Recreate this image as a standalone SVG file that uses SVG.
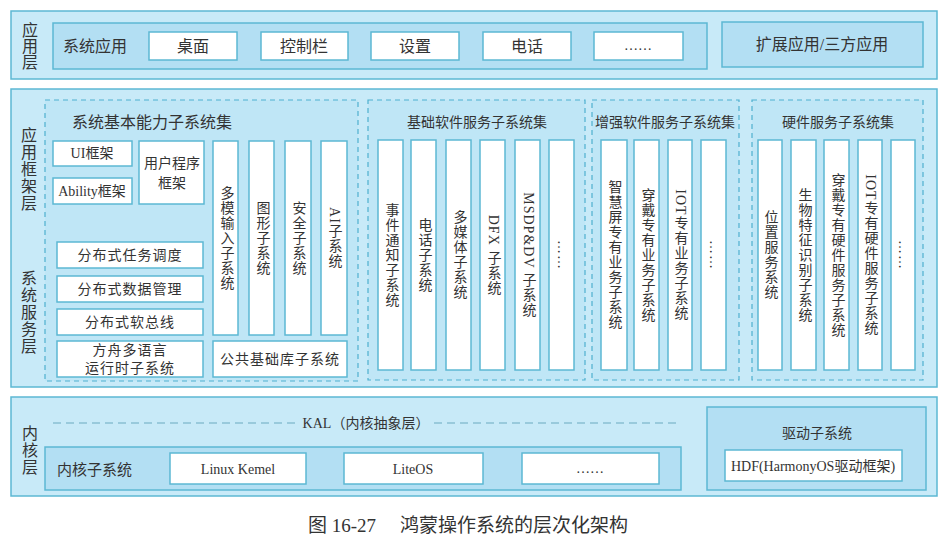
<svg xmlns="http://www.w3.org/2000/svg" width="952" height="550" viewBox="0 0 952 550">
<defs>
<style>
.layer{fill:#c8eaf8;stroke:#5cb8d3;stroke-width:1.5}
.inner{fill:#b3dff3;stroke:#5cb8d3;stroke-width:1.5}
.grp{fill:#bfe6f6;stroke:#4fb0cf;stroke-width:1.2;stroke-dasharray:5 4}
.box{fill:#ffffff;stroke:#5cb8d3;stroke-width:1.5}
text{font-family:"Liberation Serif","Noto Sans CJK SC",serif;fill:#333;font-size:14px}
.c{text-anchor:middle;dominant-baseline:central}
.v{writing-mode:vertical-rl;text-anchor:middle;letter-spacing:1px}
.lbl{font-size:16px}
.t14{font-size:14px}
.kal{stroke:#6aa9bf;stroke-width:1.2;stroke-dasharray:8 5;fill:none}
</style>
</defs>
<rect width="952" height="550" fill="#ffffff"/>

<!-- Application layer -->
<g id="app-layer">
<rect class="layer" x="11" y="11" width="926" height="68"/>
<text class="lbl c" x="30" y="30">应</text>
<text class="lbl c" x="30" y="46">用</text>
<text class="lbl c" x="30" y="62">层</text>
</g>
<g id="sys-apps">
<rect class="inner" x="53" y="23" width="654" height="46"/>
<text class="lbl" x="63" y="46" dominant-baseline="central">系统应用</text>
</g>
<g id="desktop"><rect class="box" x="149" y="32" width="88" height="28"/><text class="lbl c" x="193" y="46">桌面</text></g>
<g id="controlbar"><rect class="box" x="261" y="32" width="87" height="28"/><text class="lbl c" x="304" y="46">控制栏</text></g>
<g id="settings"><rect class="box" x="371" y="32" width="88" height="28"/><text class="lbl c" x="415" y="46">设置</text></g>
<g id="phone"><rect class="box" x="483" y="32" width="88" height="28"/><text class="lbl c" x="527" y="46">电话</text></g>
<g id="app-more"><rect class="box" x="594" y="32" width="89" height="28"/><text class="c" x="638" y="45">……</text></g>
<g id="ext-apps"><rect class="inner" x="722" y="22" width="201" height="45"/><text class="lbl c" x="822" y="44">扩展应用/三方应用</text></g>

<!-- Framework / system service layer -->
<g id="mid-layer">
<rect class="layer" x="11" y="89" width="926" height="298"/>
<text class="lbl c" x="29" y="135">应</text>
<text class="lbl c" x="29" y="152">用</text>
<text class="lbl c" x="29" y="169">框</text>
<text class="lbl c" x="29" y="186">架</text>
<text class="lbl c" x="29" y="203">层</text>
<text class="lbl c" x="29" y="278">系</text>
<text class="lbl c" x="29" y="295">统</text>
<text class="lbl c" x="29" y="312">服</text>
<text class="lbl c" x="29" y="329">务</text>
<text class="lbl c" x="29" y="346">层</text>
</g>

<g id="basic-cap-set">
<rect class="grp" x="45" y="100" width="313" height="281"/>
<text class="lbl" x="72" y="122" dominant-baseline="central">系统基本能力子系统集</text>
</g>
<g id="ui-fw"><rect class="box" x="53" y="141" width="79" height="25"/><text class="c" x="92" y="153">UI框架</text></g>
<g id="ability-fw"><rect class="box" x="53" y="178" width="79" height="26"/><text class="c" x="92" y="191">Ability框架</text></g>
<g id="user-fw"><rect class="box" x="139" y="141" width="65" height="63"/><text class="c" x="172" y="163">用户程序</text><text class="c" x="172" y="183">框架</text></g>
<g id="multimodal"><rect class="box" x="213" y="141" width="25" height="194"/><text class="v" x="226" y="238">多模输入子系统</text></g>
<g id="graphics"><rect class="box" x="249" y="141" width="25" height="194"/><text class="v" x="262" y="238">图形子系统</text></g>
<g id="security"><rect class="box" x="285" y="141" width="26" height="194"/><text class="v" x="298" y="238">安全子系统</text></g>
<g id="ai"><rect class="box" x="321" y="141" width="26" height="194"/><text class="v" x="334" y="238">AI子系统</text></g>
<g id="dist-sched"><rect class="box" x="57" y="242" width="146" height="26"/><text class="c" x="130" y="255" letter-spacing="1">分布式任务调度</text></g>
<g id="dist-data"><rect class="box" x="57" y="276" width="146" height="26"/><text class="c" x="130" y="289" letter-spacing="1">分布式数据管理</text></g>
<g id="dist-bus"><rect class="box" x="57" y="309" width="146" height="26"/><text class="c" x="130" y="322" letter-spacing="1">分布式软总线</text></g>
<g id="ark-runtime"><rect class="box" x="57" y="341" width="146" height="36"/><text class="c" x="130" y="350" letter-spacing="1">方舟多语言</text><text class="c" x="130" y="368" letter-spacing="1">运行时子系统</text></g>
<g id="common-lib"><rect class="box" x="213" y="341" width="134" height="36"/><text class="c" x="280" y="359" letter-spacing="1">公共基础库子系统</text></g>

<g id="basic-sw-set">
<rect class="grp" x="368" y="100" width="217" height="280"/>
<text class="c" x="477" y="122">基础软件服务子系统集</text>
</g>
<g id="event-notify"><rect class="box" x="378" y="140" width="25" height="230"/><text class="v" x="391" y="255">事件通知子系统</text></g>
<g id="telephony"><rect class="box" x="411" y="140" width="25" height="230"/><text class="v" x="424" y="255">电话子系统</text></g>
<g id="multimedia"><rect class="box" x="446" y="140" width="25" height="230"/><text class="v" x="459" y="255">多媒体子系统</text></g>
<g id="dfx"><rect class="box" x="480" y="140" width="25" height="230"/><text class="v" x="493" y="255">DFX 子系统</text></g>
<g id="msdp"><rect class="box" x="515" y="140" width="25" height="230"/><text class="v" x="528" y="255">MSDP&amp;DV  子系统</text></g>
<g id="basic-more"><rect class="box" x="549" y="140" width="25" height="230"/><text class="v" x="562" y="255">……</text></g>

<g id="enh-sw-set">
<rect class="grp" x="592" y="100" width="147" height="280"/>
<text class="c" x="665" y="122">增强软件服务子系统集</text>
</g>
<g id="smart-screen"><rect class="box" x="601" y="140" width="26" height="230"/><text class="v" x="614" y="255">智慧屏专有业务子系统</text></g>
<g id="wearable"><rect class="box" x="634" y="140" width="25" height="230"/><text class="v" x="647" y="255">穿戴专有业务子系统</text></g>
<g id="iot-biz"><rect class="box" x="668" y="140" width="24" height="230"/><text class="v" x="680" y="255">IOT专有业务子系统</text></g>
<g id="enh-more"><rect class="box" x="701" y="140" width="25" height="230"/><text class="v" x="714" y="255">……</text></g>

<g id="hw-set">
<rect class="grp" x="752" y="100" width="171" height="280"/>
<text class="c" x="838" y="122">硬件服务子系统集</text>
</g>
<g id="location"><rect class="box" x="758" y="140" width="24" height="230"/><text class="v" x="770" y="255">位置服务系统</text></g>
<g id="biometric"><rect class="box" x="791" y="140" width="25" height="230"/><text class="v" x="804" y="255">生物特征识别子系统</text></g>
<g id="wearable-hw"><rect class="box" x="824" y="140" width="25" height="230"/><text class="v" x="837" y="255">穿戴专有硬件服务子系统</text></g>
<g id="iot-hw"><rect class="box" x="858" y="140" width="24" height="230"/><text class="v" x="870" y="255">IOT专有硬件服务子系统</text></g>
<g id="hw-more"><rect class="box" x="891" y="140" width="24" height="230"/><text class="v" x="903" y="255">……</text></g>

<!-- Kernel layer -->
<g id="kernel-layer">
<rect class="layer" x="11" y="397" width="926" height="99"/>
<text class="lbl c" x="30" y="433">内</text>
<text class="lbl c" x="30" y="450">核</text>
<text class="lbl c" x="30" y="467">层</text>
</g>
<g id="connectors">
<line class="kal" x1="53" y1="423" x2="298" y2="423"/>
<line class="kal" x1="434" y1="423" x2="676" y2="423"/>
</g>
<g id="kal"><text class="c" x="366" y="423">KAL（内核抽象层）</text></g>
<g id="kernel-subsys">
<rect class="inner" x="45" y="447" width="636" height="43"/>
<text x="57" y="470" dominant-baseline="central" style="font-size:15px">内核子系统</text>
</g>
<g id="linux"><rect class="box" x="170" y="453" width="136" height="31"/><text class="c" x="238" y="469">Linux Kemel</text></g>
<g id="liteos"><rect class="box" x="344" y="453" width="139" height="31"/><text class="c" x="413" y="469">LiteOS</text></g>
<g id="kernel-more"><rect class="box" x="522" y="453" width="137" height="31"/><text class="c" x="590" y="468">……</text></g>
<g id="driver">
<rect class="inner" x="707" y="407" width="219" height="83"/>
<text class="c" x="817" y="433">驱动子系统</text>
</g>
<g id="hdf"><rect class="box" x="725" y="450" width="177" height="31"/><text class="c" x="813" y="466">HDF(HarmonyOS驱动框架)</text></g>

<!-- Caption -->
<text x="308" y="525" dominant-baseline="central" style="font-size:19px;fill:#333">图 16-27</text>
<text x="400" y="525" dominant-baseline="central" style="font-size:19px;fill:#333">鸿蒙操作系统的层次化架构</text>
</svg>
